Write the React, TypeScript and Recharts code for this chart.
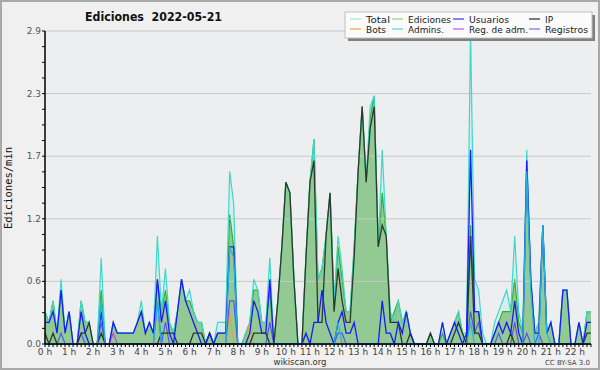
import React from "react";
import {
  ComposedChart,
  Area,
  Line,
  XAxis,
  YAxis,
  ReferenceLine,
} from "recharts";

// edits per minute, one value every 10 minutes from 00:00 to 22:40
const total = [
  0.3, 0.2, 0.4, 0.1, 0.6, 0.1, 0.3, 0, 0, 0.4,
  0.2, 0.2, 0, 0, 0.8, 0, 0, 0.2, 0.1, 0.1,
  0.1, 0.1, 0.1, 0.2, 0.4, 0.1, 0.2, 0.1, 1.0, 0.3,
  0.7, 0.2, 0.1, 0.3, 0.6, 0.4, 0.5, 0.3, 0.2, 0.2,
  0, 0.1, 0, 0.2, 0.2, 0.2, 1.6, 1.3, 0, 0,
  0.1, 0.2, 0.6, 0.5, 0.2, 0.2, 0.8, 0, 0.4, 0.9,
  1.5, 1.4, 0.6, 0, 0, 0.8, 1.5, 1.9, 0.6, 0.7,
  1.0, 1.4, 0.4, 1.0, 0.7, 0.3, 0.3, 0.9, 1.6, 2.2,
  1.5, 2.2, 2.3, 0.9, 1.8, 1.0, 0.3, 0.2, 0.4, 0.2,
  0.3, 0.1, 0, 0, 0, 0, 0.1, 0, 0, 0.2,
  0, 0.1, 0.2, 0.3, 0.1, 0.1, 2.9, 0.6, 0.5, 0.1,
  0, 0, 0.2, 0.3, 0.4, 0.5, 0.3, 1.0, 0.3, 0.1,
  1.8, 0.6, 0.1, 0.2, 1.1, 0.1, 0.2, 0, 0, 0.5,
  0.5, 0, 0, 0.2, 0, 0.3, 0.3,
];
const ediciones = [
  0.3, 0.2, 0.4, 0.1, 0.5, 0.1, 0.3, 0, 0, 0.4,
  0.2, 0.2, 0, 0, 0.5, 0, 0, 0.2, 0.1, 0.1,
  0.1, 0.1, 0.1, 0.2, 0.3, 0.1, 0.2, 0.1, 0.6, 0.3,
  0.5, 0.2, 0.1, 0.3, 0.6, 0.4, 0.4, 0.3, 0.2, 0.2,
  0, 0.1, 0, 0.1, 0.1, 0.1, 1.2, 0.9, 0, 0,
  0.1, 0.2, 0.5, 0.5, 0.2, 0.2, 0.5, 0, 0.4, 0.9,
  1.5, 1.4, 0.6, 0, 0, 0.8, 1.5, 1.9, 0.6, 0.7,
  1.0, 1.4, 0.4, 0.9, 0.6, 0.3, 0.3, 0.9, 1.6, 2.2,
  1.5, 2.1, 2.3, 0.9, 1.4, 1.0, 0.2, 0.3, 0.4, 0.2,
  0.3, 0.1, 0, 0, 0, 0, 0.1, 0, 0, 0.1,
  0, 0.1, 0.2, 0.3, 0.1, 0, 1.1, 0.3, 0.3, 0,
  0, 0, 0.1, 0.2, 0.3, 0.3, 0.3, 0.6, 0.2, 0.1,
  1.7, 0.6, 0.1, 0.2, 1.1, 0.1, 0.2, 0, 0, 0.5,
  0.5, 0, 0, 0.2, 0, 0.3, 0.3,
];
const usuarios = [
  0.2, 0.2, 0.3, 0.1, 0.5, 0.1, 0.3, 0, 0, 0.3,
  0.1, 0, 0, 0, 0.3, 0, 0, 0.2, 0.1, 0.1,
  0.1, 0.1, 0.1, 0.2, 0.3, 0.1, 0.2, 0.1, 0.6, 0.2,
  0.4, 0.1, 0, 0.3, 0.6, 0.4, 0.3, 0.2, 0.1, 0,
  0, 0.1, 0, 0.1, 0.1, 0.1, 0.9, 0.9, 0, 0,
  0, 0.1, 0.4, 0.3, 0.1, 0.1, 0.6, 0, 0, 0,
  0, 0, 0, 0, 0, 0.1, 0, 0.2, 0.2, 0.5,
  0.2, 0.1, 0, 0.2, 0.3, 0.1, 0.1, 0.2, 0, 0,
  0, 0, 0, 0, 0.4, 0.1, 0.1, 0, 0.2, 0.1,
  0.3, 0.1, 0, 0, 0, 0, 0, 0, 0, 0.2,
  0, 0.1, 0.2, 0.1, 0, 0.1, 1.8, 0.3, 0.3, 0,
  0, 0, 0.1, 0.2, 0.1, 0.2, 0.1, 0.4, 0.1, 0,
  1.7, 0.6, 0.1, 0.1, 1.1, 0.1, 0.2, 0, 0, 0.5,
  0.5, 0, 0, 0.2, 0, 0.2, 0.2,
];
const ip = [
  0.1, 0, 0.1, 0, 0, 0, 0, 0, 0, 0.1,
  0.1, 0.2, 0, 0, 0.1, 0, 0, 0, 0, 0,
  0, 0, 0, 0, 0, 0, 0, 0, 0, 0.1,
  0.1, 0.1, 0.1, 0, 0, 0, 0, 0.1, 0.1, 0.1,
  0, 0.1, 0, 0, 0, 0, 0, 0, 0, 0,
  0, 0, 0.1, 0.1, 0.1, 0.1, 0, 0, 0.4, 0.9,
  1.5, 1.4, 0.6, 0, 0, 0.8, 1.5, 1.7, 0.2, 0.2,
  1.0, 1.4, 0.3, 0.7, 0.4, 0.2, 0.2, 0.8, 1.6, 2.2,
  1.5, 2.0, 2.2, 0.9, 1.1, 1.0, 0.2, 0.2, 0.2, 0,
  0, 0.1, 0, 0, 0, 0, 0.1, 0, 0, 0,
  0, 0, 0.1, 0.2, 0.1, 0, 1.0, 0.1, 0.1, 0,
  0, 0, 0, 0, 0, 0, 0.1, 0, 0, 0,
  0, 0, 0, 0, 0, 0, 0, 0, 0, 0,
  0, 0, 0, 0, 0, 0.1, 0.1,
];
const bots = [
  0, 0, 0, 0, 0, 0, 0, 0, 0, 0,
  0, 0, 0, 0, 0, 0, 0, 0, 0, 0,
  0, 0, 0, 0, 0, 0, 0, 0, 0, 0,
  0, 0, 0, 0, 0, 0, 0, 0, 0, 0,
  0, 0, 0, 0, 0, 0, 0.3, 0, 0, 0,
  0, 0.2, 0, 0, 0, 0, 0, 0, 0, 0,
  0, 0, 0, 0, 0, 0, 0, 0, 0, 0,
  0, 0, 0, 0, 0, 0, 0, 0, 0, 0,
  0, 0, 0, 0, 0, 0, 0, 0, 0, 0,
  0, 0, 0, 0, 0, 0, 0, 0, 0, 0,
  0, 0, 0, 0, 0, 0, 0, 0, 0, 0,
  0, 0, 0, 0, 0, 0, 0, 0.2, 0, 0,
  0, 0, 0, 0, 0, 0, 0, 0, 0, 0,
  0, 0, 0, 0, 0, 0, 0,
];
const admins = [
  0, 0, 0, 0, 0, 0, 0, 0, 0, 0,
  0, 0, 0, 0, 0.4, 0, 0, 0, 0, 0,
  0, 0, 0, 0, 0, 0, 0, 0, 0.4, 0,
  0, 0, 0, 0, 0, 0, 0, 0, 0, 0,
  0, 0, 0, 0, 0, 0, 0.9, 0.8, 0, 0,
  0, 0, 0, 0, 0, 0, 0, 0, 0, 0,
  0, 0, 0, 0, 0, 0, 0, 0, 0, 0,
  0, 0, 0, 0.2, 0, 0, 0, 0, 0, 0,
  0, 0, 0, 0, 0, 0, 0, 0, 0, 0,
  0, 0, 0, 0, 0, 0, 0, 0, 0, 0,
  0, 0, 0, 0, 0, 0, 0.2, 0, 0, 0,
  0, 0, 0, 0, 0, 0, 0, 0, 0, 0,
  1.6, 0.5, 0, 0, 1.1, 0.1, 0, 0, 0, 0,
  0, 0, 0, 0, 0, 0, 0,
];
const regAdm = [
  0, 0, 0, 0, 0, 0, 0, 0, 0, 0,
  0, 0, 0, 0, 0, 0, 0, 0.1, 0, 0,
  0, 0, 0, 0, 0, 0, 0, 0, 0, 0,
  0, 0, 0, 0, 0, 0, 0, 0, 0, 0,
  0, 0, 0, 0, 0, 0, 0, 0, 0, 0,
  0, 0, 0, 0, 0, 0, 0, 0, 0, 0,
  0, 0, 0, 0, 0, 0, 0, 0, 0, 0,
  0, 0, 0, 0, 0, 0, 0, 0, 0, 0,
  0, 0, 0, 0, 0, 0, 0, 0, 0, 0,
  0, 0, 0, 0, 0, 0, 0, 0, 0, 0,
  0, 0, 0, 0, 0, 0, 0, 0, 0, 0,
  0, 0, 0, 0, 0, 0, 0, 0, 0, 0,
  0, 0, 0, 0, 0, 0, 0, 0, 0, 0,
  0, 0, 0, 0, 0, 0, 0,
];
const registros = [
  0, 0, 0, 0, 0.1, 0, 0, 0, 0, 0.1,
  0, 0, 0, 0, 0.2, 0, 0, 0, 0, 0,
  0, 0, 0, 0, 0, 0, 0, 0, 0.4, 0,
  0.2, 0, 0, 0, 0, 0, 0, 0, 0, 0,
  0, 0, 0, 0, 0, 0, 0.4, 0.4, 0, 0,
  0, 0, 0, 0, 0, 0, 0.2, 0, 0, 0,
  0, 0, 0, 0, 0, 0, 0, 0, 0, 0,
  0, 0, 0, 0.1, 0.1, 0, 0, 0, 0, 0,
  0, 0, 0, 0, 0, 0, 0, 0, 0, 0,
  0, 0, 0, 0, 0, 0, 0, 0, 0, 0,
  0, 0, 0, 0, 0, 0, 0.3, 0.1, 0.2, 0,
  0, 0, 0, 0.1, 0, 0, 0, 0.2, 0, 0,
  0.1, 0, 0, 0.1, 0, 0, 0, 0, 0, 0,
  0, 0, 0, 0, 0, 0, 0,
];

const hourLabels = [
  "0 h", "1 h", "2 h", "3 h", "4 h", "5 h", "6 h", "7 h", "8 h", "9 h", "10 h", "11 h",
  "12 h", "13 h", "14 h", "15 h", "16 h", "17 h", "18 h", "19 h", "20 h", "21 h", "22 h",
];
const yLabels = ["0.0", "0.6", "1.2", "1.7", "2.3", "2.9"];
const Y_MAX = 2.9;

const legendItems = [
  { name: "Total", color: "#a8e6dc", x: 350, y: 19, w: 24 },
  { name: "Ediciones", color: "#8cd08c", x: 392, y: 19, w: 43 },
  { name: "Usuarios", color: "#3a3ae0", x: 453, y: 19, w: 40 },
  { name: "IP", color: "#2a2a2a", x: 529, y: 19, w: 8 },
  { name: "Bots", color: "#f0a040", x: 350, y: 29, w: 20 },
  { name: "Admins.", color: "#60d0e0", x: 392, y: 29, w: 36 },
  { name: "Reg. de adm.", color: "#d050e0", x: 453, y: 29, w: 59 },
  { name: "Registros", color: "#7070f0", x: 529, y: 29, w: 43 },
];

const data = total.map((v, i) => ({
  t: i * 10,
  total: v,
  ediciones: ediciones[i],
  usuarios: usuarios[i],
  ip: ip[i],
  bots: bots[i],
  admins: admins[i],
  regAdm: regAdm[i],
  registros: registros[i],
}));

const xTicks = data.map((d) => d.t);
const yMinor = Array.from({ length: 21 }, (_, i) => +(i * 0.145).toFixed(3));
const yMajor = yLabels.map((_, i) => +(i * 0.58).toFixed(2));

const font = "'DejaVu Sans', sans-serif";

const XTick = ({ x, y, payload }: any) => {
  const m = payload.value;
  const isHour = m % 60 === 0;
  return (
    <g>
      <line x1={x} x2={x} y1={y} y2={y + 3} stroke="#000" strokeWidth={1} />
      {isHour && (
        <text
          x={x}
          y={y + 10.5}
          textAnchor="middle"
          fontSize={9}
          fontFamily={font}
          fill="#444"
        >
          {hourLabels[m / 60]}
        </text>
      )}
    </g>
  );
};

const YTick = ({ x, y, index }: any) => {
  const major = index % 4 === 0;
  return (
    <g>
      <line x1={x - 3} x2={x} y1={y} y2={y} stroke="#000" strokeWidth={1} />
      {major && (
        <text
          x={x - 4}
          y={y + 3}
          textAnchor="end"
          fontSize={9}
          fontFamily={font}
          fill="#555"
        >
          {yLabels[index / 4]}
        </text>
      )}
    </g>
  );
};

export default function App() {
  return (
    <div
      style={{
        position: "absolute",
        left: 0,
        top: 0,
        width: 600,
        height: 370,
        background: "#f0f0f0",
        boxSizing: "border-box",
        border: "2px solid #a8a8a8",
        fontFamily: font,
      }}
    >
      <style>{`body{margin:0}`}</style>
      <div style={{ position: "absolute", left: -2, top: -2 }}>
        <ComposedChart
          width={600}
          height={370}
          data={data}
          margin={{ top: 31, right: 9, bottom: 10, left: 0 }}
        >
          <rect x={45} y={31} width={546} height={313} fill="#eceef0" />
          {yMajor.slice(1).map((v) => (
            <ReferenceLine key={v} y={v} stroke="#c8c8c8" strokeWidth={1} />
          ))}
          <XAxis
            dataKey="t"
            type="number"
            domain={[0, 1360]}
            ticks={xTicks}
            interval={0}
            height={16}
            tickSize={0}
            tickMargin={0}
            tickLine={false}
            tick={<XTick />}
            axisLine={{ stroke: "#000", strokeWidth: 1.5 }}
          />
          <YAxis
            type="number"
            domain={[0, Y_MAX]}
            ticks={yMinor}
            interval={0}
            width={45}
            tickSize={0}
            tickMargin={0}
            tickLine={false}
            tick={<YTick />}
            axisLine={{ stroke: "#000", strokeWidth: 1.5 }}
          />
          <Area
            type="linear"
            dataKey="total"
            stroke="none"
            fill="#d6ecee"
            fillOpacity={1}
            isAnimationActive={false}
          />
          <Area
            type="linear"
            dataKey="ediciones"
            stroke="#33b033"
            strokeWidth={1.2}
            fill="#93c993"
            fillOpacity={1}
            isAnimationActive={false}
          />
          <Line type="linear" dataKey="total" stroke="#3ed8c8" strokeWidth={1.2} dot={false} isAnimationActive={false} />
          <Line type="linear" dataKey="bots" stroke="#f0a030" strokeWidth={1.2} dot={false} isAnimationActive={false} />
          <Line type="linear" dataKey="regAdm" stroke="#d040d8" strokeWidth={1.2} dot={false} isAnimationActive={false} />
          <Line type="linear" dataKey="registros" stroke="#5656f0" strokeWidth={1.2} dot={false} isAnimationActive={false} />
          <Line type="linear" dataKey="ip" stroke="#2c3a2c" strokeWidth={1.3} dot={false} isAnimationActive={false} />
          <Line type="linear" dataKey="usuarios" stroke="#1a1aff" strokeWidth={1.3} dot={false} isAnimationActive={false} />
          <Line type="linear" dataKey="admins" stroke="#20b4e0" strokeWidth={1.2} dot={false} isAnimationActive={false} />
        </ComposedChart>
      </div>
      <svg
        width={600}
        height={370}
        style={{ position: "absolute", left: -2, top: -2, pointerEvents: "none" }}
      >
        <text
          x={85}
          y={21}
          fontSize={12}
          fontWeight="bold"
          fontFamily={font}
          fill="#111"
          textLength={137}
          lengthAdjust="spacingAndGlyphs"
          style={{ whiteSpace: "pre" }}
        >
          {"Ediciones  2022-05-21"}
        </text>
        <text
          x={12}
          y={188}
          transform="rotate(-90 12 188)"
          textAnchor="middle"
          fontSize={10.5}
          fontFamily="'DejaVu Sans Mono', monospace"
          fill="#111"
        >
          Ediciones/min
        </text>
        <text x={300} y={365} textAnchor="middle" fontSize={8.5} fontFamily={font} fill="#333">
          wikiscan.org
        </text>
        <text x={590} y={365} textAnchor="end" fontSize={7} fontFamily={font} fill="#444">
          CC BY-SA 3.0
        </text>
        <rect x={348} y={15} width={247} height={26} fill="#808080" />
        <rect x={345} y={12} width={247} height={26} fill="#fbfbfb" stroke="#c0c0c0" strokeWidth={1} />
        {legendItems.map((it) => (
          <g key={it.name}>
            <line x1={it.x} x2={it.x + 11} y1={it.y} y2={it.y} stroke={it.color} strokeWidth={1.2} />
            <text
              x={it.x + 16}
              y={it.y + 3.5}
              fontSize={9.5}
              fontFamily={font}
              fill="#222"
              textLength={it.w}
              lengthAdjust="spacingAndGlyphs"
            >
              {it.name}
            </text>
          </g>
        ))}
      </svg>
    </div>
  );
}
